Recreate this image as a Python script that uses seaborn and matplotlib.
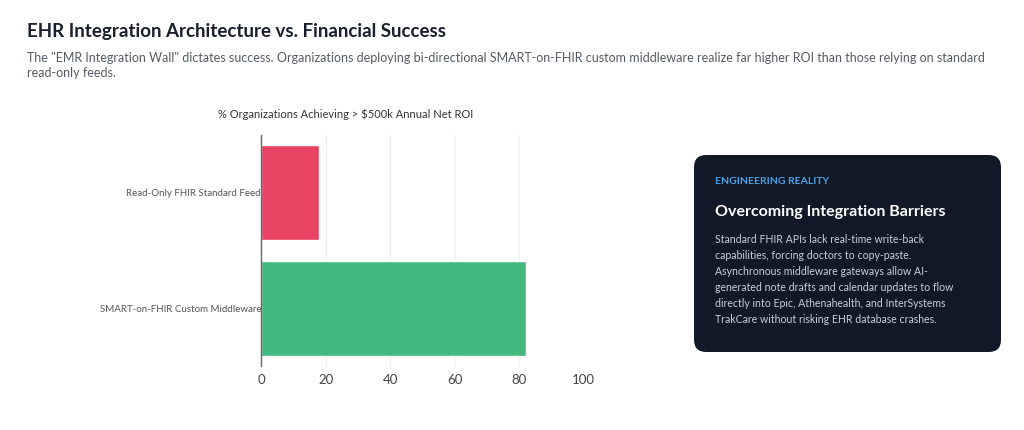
import matplotlib
matplotlib.use("Agg")
import matplotlib.pyplot as plt
import seaborn as sns
import pandas as pd
from matplotlib.patches import FancyBboxPatch

categories = ["Read-Only FHIR Standard Feed", "SMART-on-FHIR Custom Middleware"]
values = [18, 82]
colors = ["#e84362", "#43b97f"]
ticks = [0, 20, 40, 60, 80, 100]

sns.set_style("white")
plt.rcParams['font.family'] = ['Lato', 'DejaVu Sans']

fig = plt.figure(figsize=(10.24, 4.3), dpi=100)
ax = fig.add_axes([0.255, 0.149, 0.315, 0.537])
df = pd.DataFrame({"cat": categories, "val": values})
sns.barplot(data=df, y="cat", x="val", hue="cat", palette=colors, ax=ax, saturation=1,
            orient="h", width=0.82, legend=False, edgecolor="white", linewidth=1)
ax.set_xlim(0, 100)
ax.set_xticks(ticks)
ax.set_xticklabels([str(t) for t in ticks], fontsize=9.5, color="#444")
ax.tick_params(axis="y", labelsize=7, colors="#555", length=0, pad=0)
ax.tick_params(axis="x", length=0, pad=6)
ax.set_xlabel(""); ax.set_ylabel("")
ax.grid(axis="x", color="#eeeeee", linewidth=0.8)
ax.set_axisbelow(True)
for s in ["top", "right", "bottom"]:
    ax.spines[s].set_visible(False)
ax.spines["left"].set_color("#666")
ax.spines["left"].set_linewidth(1)
fig.text(346/1024, 1-114/430, "% Organizations Achieving > $500k Annual Net ROI", fontsize=8,
         color="#333", ha="center", va="center")

fig.text(0.026, 0.915, "EHR Integration Architecture vs. Financial Success", fontsize=13.5,
         fontweight="bold", color="#1a1f2e")
fig.text(0.026, 0.82, "The \"EMR Integration Wall\" dictates success. Organizations deploying bi-directional SMART-on-FHIR custom middleware realize far higher ROI than those relying on standard\nread-only feeds.",
         fontsize=9, color="#555b66", linespacing=1.35)

card = FancyBboxPatch((694/1024, 1-352/430), (1001-694)/1024, (352-155)/430,
                      boxstyle="round,pad=0,rounding_size=0.012", transform=fig.transFigure,
                      facecolor="#111827", edgecolor="none", mutation_aspect=1024/430)
fig.patches.append(card)
fig.text(715/1024, 1-181/430, "ENGINEERING REALITY", fontsize=7.5, fontweight="bold",
         color="#4aa3ea", va="center")
fig.text(715/1024, 1-212/430, "Overcoming Integration Barriers", fontsize=11.5, fontweight="bold",
         color="white", va="center")
body = ("Standard FHIR APIs lack real-time write-back\ncapabilities, forcing doctors to copy-paste.\n"
        "Asynchronous middleware gateways allow AI-\ngenerated note drafts and calendar updates to flow\n"
        "directly into Epic, Athenahealth, and InterSystems\nTrakCare without risking EHR database crashes.")
fig.text(715/1024, 1-234/430, body, fontsize=7.6, color="#c9ced8", va="top", linespacing=1.55)

fig.savefig("out.png", dpi=100)
